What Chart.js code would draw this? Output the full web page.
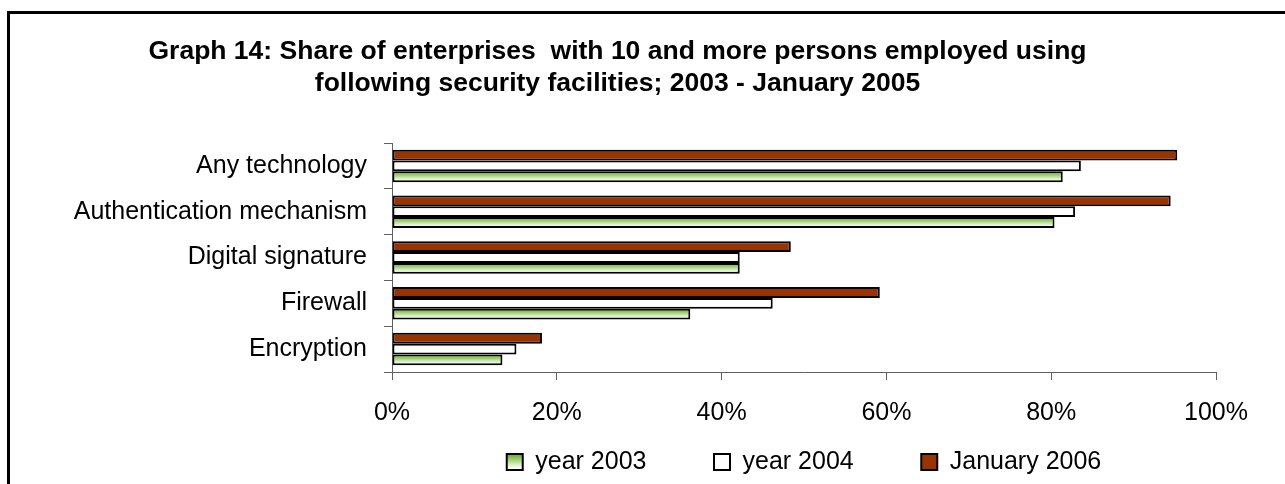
<!DOCTYPE html>
<html>
<head>
<meta charset="utf-8">
<title>Graph 14: security facilities</title>
<script src="https://cdn.jsdelivr.net/npm/chart.js@4.4.1/dist/chart.umd.min.js"></script>
<style>
  html, body { margin: 0; padding: 0; background: #fff; }
  #frame {
    position: absolute; left: 7px; top: 11px; width: 1278px; height: 473px;
    border-left: 3px solid #000; border-top: 3px solid #000; box-sizing: border-box;
  }
  #wrap { position: absolute; left: 0; top: 0; width: 1285px; height: 484px; }
</style>
</head>
<body>
<div id="frame"></div>
<div id="wrap"><canvas id="c" width="1285" height="484"></canvas></div>
<script>
// Categories, top to bottom
const categories = ['Any technology', 'Authentication mechanism', 'Digital signature', 'Firewall', 'Encryption'];

// Share of enterprises (%)
const jan2006  = [95.3, 94.5, 48.4, 59.2, 18.2];
const year2004 = [83.6, 82.9, 42.2, 46.2, 15.1];
const year2003 = [81.4, 80.4, 42.2, 36.2, 13.4];

const seriesNames = ['January 2006', 'year 2004', 'year 2003'];
const xTickValues = [0, 20, 40, 60, 80, 100];

const CAT_PCT = 0.71;
const FONT = '"Liberation Sans", Arial, sans-serif';
const LEGEND_FONT = 25;
const LEGEND_BOX = 16;
const LEGEND_PAD = 12;

function greenFill(ctx, top, bottom) {
  const g = ctx.createLinearGradient(0, top, 0, bottom);
  g.addColorStop(0, '#6cb22c');
  g.addColorStop(0.35, '#a3d277');
  g.addColorStop(0.7, '#dcefcc');
  g.addColorStop(1, '#ffffff');
  return g;
}

// Green bars fade from green at the top edge to white at the bottom edge
function year2003Fill(c) {
  const chart = c.chart;
  const ys = chart.scales && chart.scales.y;
  if (c.type !== 'data' || !ys || !ys.height) return '#b9dc98';
  const center = ys.getPixelForValue(c.dataIndex);
  const band = ys.height / categories.length;
  const chunk = band * CAT_PCT / 3;
  return greenFill(chart.ctx, center + chunk / 2 + 1, center + chunk * 1.5 - 1);
}

// Same fade for the legend swatch, placed from the legend's own geometry
const legendGradient = {
  id: 'legendGradient',
  beforeDraw(chart) {
    const lg = chart.legend;
    if (!lg || !lg.legendItems) return;
    const top = lg.top + LEGEND_PAD + Math.max((LEGEND_FONT - LEGEND_BOX) / 2, 0);
    lg.legendItems.forEach(item => {
      if (item.datasetIndex === 2) item.fillStyle = greenFill(chart.ctx, top + 1, top + LEGEND_BOX - 1);
    });
  }
};

const gap = '        ';

new Chart(document.getElementById('c'), {
  type: 'bar',
  data: {
    labels: categories,
    datasets: [
      { label: seriesNames[0], data: jan2006,  backgroundColor: '#993300' },
      { label: seriesNames[1], data: year2004, backgroundColor: '#ffffff' },
      { label: seriesNames[2], data: year2003, backgroundColor: year2003Fill }
    ]
  },
  options: {
    indexAxis: 'y',
    responsive: false,
    animation: false,
    devicePixelRatio: 1,
    categoryPercentage: CAT_PCT,
    barPercentage: 1,
    datasets: {
      bar: { borderColor: '#000000', borderWidth: 2, borderSkipped: false }
    },
    layout: { padding: { left: 19, right: 69, top: 0, bottom: -0.5 } },
    plugins: {
      title: {
        display: true,
        text: ['Graph 14: Share of enterprises  with 10 and more persons employed using',
               'following security facilities; 2003 - January 2005'],
        color: '#000',
        font: { family: FONT, size: 26.5, weight: 'bold', lineHeight: 32 / 26.5 },
        padding: { top: 36, bottom: 43 }
      },
      legend: {
        position: 'bottom',
        fullSize: false,
        reverse: true,
        labels: {
          color: '#000',
          font: { family: FONT, size: LEGEND_FONT },
          boxWidth: LEGEND_BOX,
          boxHeight: LEGEND_BOX,
          padding: LEGEND_PAD,
          generateLabels(chart) {
            const items = Chart.defaults.plugins.legend.labels.generateLabels(chart);
            items.forEach(it => { if (it.datasetIndex !== 0) it.text = it.text + gap; });
            return items;
          }
        }
      },
      tooltip: { enabled: false }
    },
    scales: {
      x: {
        min: 0, max: 100,
        afterBuildTicks(s) { s.ticks = xTickValues.map(v => ({ value: v })); },
        afterFit(s) { s.height = 65.5; },
        grid: { drawOnChartArea: false, tickLength: 8, color: '#606060' },
        border: { color: '#606060', width: 1 },
        ticks: {
          color: '#000', padding: 18,
          font: { family: FONT, size: 25 },
          callback: v => v + '%'
        }
      },
      y: {
        afterFit(s) { s.width = 373; },
        grid: { drawOnChartArea: false, tickLength: 8, color: '#606060', offset: true },
        border: { color: '#606060', width: 1 },
        ticks: {
          color: '#000', padding: 17, autoSkip: false,
          font: { family: FONT, size: 25 }
        }
      }
    }
  },
  plugins: [legendGradient]
});
</script>
</body>
</html>
